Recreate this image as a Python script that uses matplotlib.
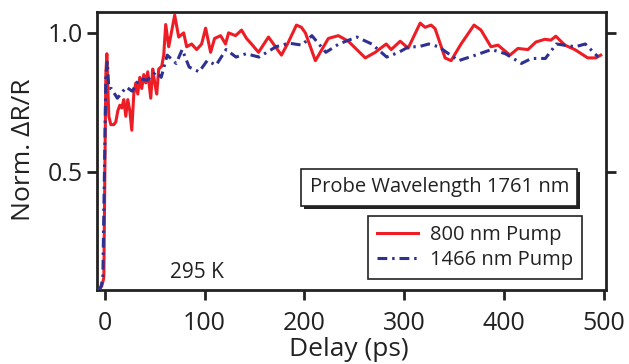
'''Normalized transient reflectivity vs delay for two pump wavelengths'''

import matplotlib
matplotlib.use('Agg')
import matplotlib.pyplot as plt
import matplotlib.patheffects as pe

plt.rcParams['font.family'] = ['Open Sans', 'DejaVu Sans']

# 800 nm pump trace
red_delay = [-6, -3, -1, 0, 1, 2, 3, 4, 6, 9, 11, 13, 15, 17, 19, 21, 23, 25, 27, 29,
             31, 33, 35, 37, 39, 41, 43, 46, 48, 50, 52, 54, 57, 59, 61, 64, 70, 74, 79, 82,
             87, 92, 97, 101, 106, 110, 116, 121, 124, 131, 137, 142, 147, 154, 164, 171, 177, 184, 192, 197,
             201, 211, 224, 234, 244, 261, 271, 282, 287, 296, 304, 316, 321, 327, 331, 341, 347, 357, 370, 377,
             387, 394, 406, 414, 424, 432, 441, 447, 452, 461, 471, 484, 492, 497]
red_signal = [0.08, 0.09, 0.12, 0.50, 0.85, 0.925, 0.80, 0.70, 0.67, 0.67, 0.68, 0.72, 0.74, 0.73, 0.76, 0.70, 0.76, 0.72, 0.65, 0.78,
              0.82, 0.78, 0.84, 0.80, 0.85, 0.82, 0.86, 0.765, 0.87, 0.82, 0.78, 0.87, 0.88, 0.92, 1.03, 0.95, 1.064, 0.985, 1.0, 0.95,
              0.96, 0.94, 0.96, 1.017, 0.93, 0.98, 0.99, 0.96, 1.0, 0.99, 1.01, 0.98, 0.96, 0.93, 0.985, 0.95, 0.92, 0.967, 1.028, 1.02,
              1.0, 0.90, 0.98, 0.99, 0.97, 0.91, 0.93, 0.96, 0.94, 0.97, 0.945, 1.035, 1.02, 1.028, 1.015, 0.91, 0.90, 0.96, 1.028, 1.01,
              0.95, 0.956, 0.92, 0.944, 0.94, 0.967, 0.977, 0.974, 0.988, 0.956, 0.94, 0.91, 0.91, 0.92]

# 1466 nm pump trace
blue_delay = [-7, -4, -2, 0, 1, 2.5, 4, 6.5, 12.5, 21.5, 27.5, 34.5, 42.5, 51.5, 56.5, 62.5, 71.5, 77.5, 84.5, 94.5,
              102.5, 111.5, 121.5, 131.5, 141.5, 154.5, 171.5, 184.5, 197.5, 207.5, 221.5, 234.5, 252.5, 267.5, 282.5, 294.5,
              304.5, 314.5, 324.5, 334.5, 354.5, 371.5, 387.5, 401.5, 417.5, 427.5, 441.5, 452.5, 471.5, 481.5, 494.5]
blue_signal = [0.075, 0.085, 0.12, 0.60, 0.85, 0.895, 0.80, 0.80, 0.765, 0.805, 0.79, 0.835, 0.83, 0.86, 0.84, 0.92, 0.89, 0.94, 0.877, 0.86,
               0.90, 0.884, 0.94, 0.913, 0.925, 0.913, 0.95, 0.963, 0.956, 0.99, 0.93, 0.96, 0.985, 0.96, 0.913, 0.93,
               0.95, 0.95, 0.96, 0.95, 0.90, 0.92, 0.94, 0.925, 0.89, 0.908, 0.908, 0.96, 0.95, 0.96, 0.913]

fig = plt.figure(figsize=(6.29, 3.64), dpi=100)
ax = fig.add_axes([0.154, 0.203, 0.809, 0.764])

ax.plot(red_delay, red_signal, color='#ee1c24', lw=2.2, label='800 nm Pump', zorder=2)
ax.plot(blue_delay, blue_signal, color='#2e3192', lw=2.2, dashes=(3.2, 1.6, 0.8, 1.6),
        label='1466 nm Pump', zorder=3)

ax.set_xlim(-8, 502)
ax.set_ylim(0.075, 1.075)
ax.set_xticks([0, 100, 200, 300, 400, 500])
ax.set_yticks([0.5, 1.0])
ax.set_yticklabels(['0.5', '1.0'])
ax.tick_params(direction='out', length=7, width=2, labelsize=18, right=True, top=False,
               color='#222222', labelcolor='#222222')
ax.tick_params(axis='x', pad=8)
ax.tick_params(axis='y', pad=3)
for s in ax.spines.values():
    s.set_linewidth(2)
    s.set_color('#222222')

ax.set_xlabel('Delay (ps)', fontsize=19, color='#222222')
ax.set_ylabel('Norm. \u0394R/R', fontsize=19, color='#222222')
ax.xaxis.set_label_coords(0.495, -0.168)
ax.yaxis.set_label_coords(-0.12, 0.505)

ax.text(92.5, 0.139, '295 K', fontsize=15, ha='center', va='center', color='#222222')

t = ax.text(0.673, 0.369, 'Probe Wavelength 1761 nm', transform=ax.transAxes,
            fontsize=14.5, ha='center', va='center', color='#222222',
            bbox=dict(boxstyle='square,pad=0.42', fc='white', ec='#222222', lw=1.2))
t.get_bbox_patch().set_path_effects([pe.SimplePatchShadow(offset=(2, -2), shadow_rgbFace='#222222', alpha=1),
                                     pe.Normal()])

leg = ax.legend(loc='lower right', bbox_to_anchor=(0.953, 0.04), borderaxespad=0,
                fontsize=14.5, fancybox=False, framealpha=1, edgecolor='#222222',
                handlelength=2.0, handletextpad=0.6, labelspacing=0.25, borderpad=0.45)
leg.get_frame().set_linewidth(1.2)
for txt in leg.get_texts():
    txt.set_color('#222222')

plt.savefig('out.png', dpi=100)
